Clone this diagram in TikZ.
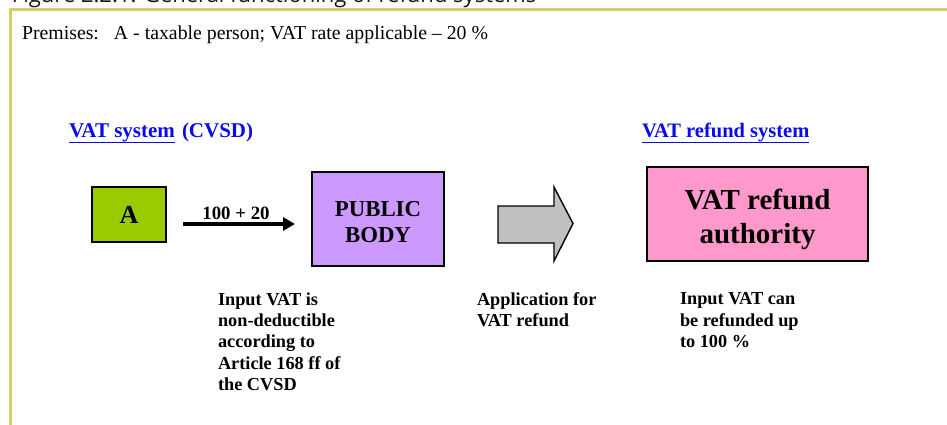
\documentclass[tikz,border=0pt]{standalone}
\usepackage{fontspec}
\setmainfont{Liberation Serif}
\newfontfamily\captionfont{Open Sans}
\usetikzlibrary{arrows.meta,calc}
\definecolor{frameolive}{HTML}{D4CF6A}
\definecolor{agreen}{HTML}{99CC00}
\definecolor{bodylilac}{HTML}{CC99FF}
\definecolor{refundpink}{HTML}{FF99CC}
\definecolor{arrowgrey}{HTML}{C0C0C0}
\definecolor{headblue}{HTML}{0A0AEE}
\newcommand{\fsz}[2]{\fontsize{#1}{#2}\selectfont}

\begin{document}
\begin{tikzpicture}[x=1pt,y=-1pt,
  every node/.style={inner sep=0pt, outer sep=0pt},
  entity/.style={draw=black, line width=1.4pt},
  entitytext/.style={align=center},
  heading/.style={text=headblue, font=\bfseries\fsz{21}{25}, anchor=base west},
  note/.style={anchor=north west, align=left, font=\bfseries\fsz{18.3}{21.25}},
]
\useasboundingbox (0,0) rectangle (947,425);

% caption above the frame, cut by the page edge
\node[anchor=base west, font=\captionfont\fsz{22}{26}, text=black!90] (caption) at (12,3)
  {Figure 2.2.1. General functioning of refund systems};

% frame
\draw[frameolive, line width=3pt] (10.5,426) -- (10.5,10) -- (948,10);

% premises
\node[anchor=base west, font=\fsz{19.8}{23}] (premises) at (22,40)
  {Premises:\hspace{15pt}A - taxable person; VAT rate applicable -- 20 \%};

% system headings
\node[heading] (vs) at (69,138) {VAT system};
\node[heading] (cvsd) at (182,138) {(CVSD)};
\draw[headblue, line width=1.4pt] ($(vs.base west)+(0,4.2)$) -- ($(vs.base east)+(0,4.2)$);
\node[heading, font=\bfseries\fsz{20.5}{25}] (rs) at (642,138) {VAT refund system};
\draw[headblue, line width=1.4pt] ($(rs.base west)+(0,4.2)$) -- ($(rs.base east)+(0,4.2)$);

% entities
\node[entity, fill=agreen, minimum width=74pt, minimum height=55pt,
      font=\bfseries\fsz{26}{30}] (A) at (129,214.5) {A};
\node[entity, fill=bodylilac, minimum width=132pt, minimum height=94pt] (pb) at (378,219) {};
\node[entitytext, font=\bfseries\fsz{22.8}{26.7}] (pbtext) at ($(pb.center)+(0,3)$) {PUBLIC\\BODY};
\node[entity, fill=refundpink, minimum width=221pt, minimum height=94pt] (ra) at (757.5,214) {};
\node[entitytext, font=\bfseries\fsz{29}{34}] (ratext) at ($(ra.center)+(0,5)$) {VAT refund\\authority};

% supply from A to the public body
\coordinate (supS) at (183,224);
\coordinate (supE) at (295,224);
\draw[line width=4.2pt, -{Triangle[length=12pt,width=13pt]}] (supS) -- (supE);
\node[anchor=base, font=\bfseries\fsz{18.8}{22}] (amount) at (236,219) {100 + 20};

% block arrow towards the refund authority
\draw[fill=arrowgrey, line width=1.4pt]
  (498,206) -- (554,206) -- (554,187) -- (573,223.5) -- (554,261) -- (554,243) -- (498,243) -- cycle;

% notes
\node[note] (n1) at (218,292.7)
  {Input VAT is\\non-deductible\\according to\\Article 168 ff of\\the CVSD};
\node[note] (n2) at (477,292.7) {Application for\\VAT refund};
\node[note] (n3) at (680,292.7) {Input VAT can\\be refunded up\\to 100 \%};
\end{tikzpicture}
\end{document}
